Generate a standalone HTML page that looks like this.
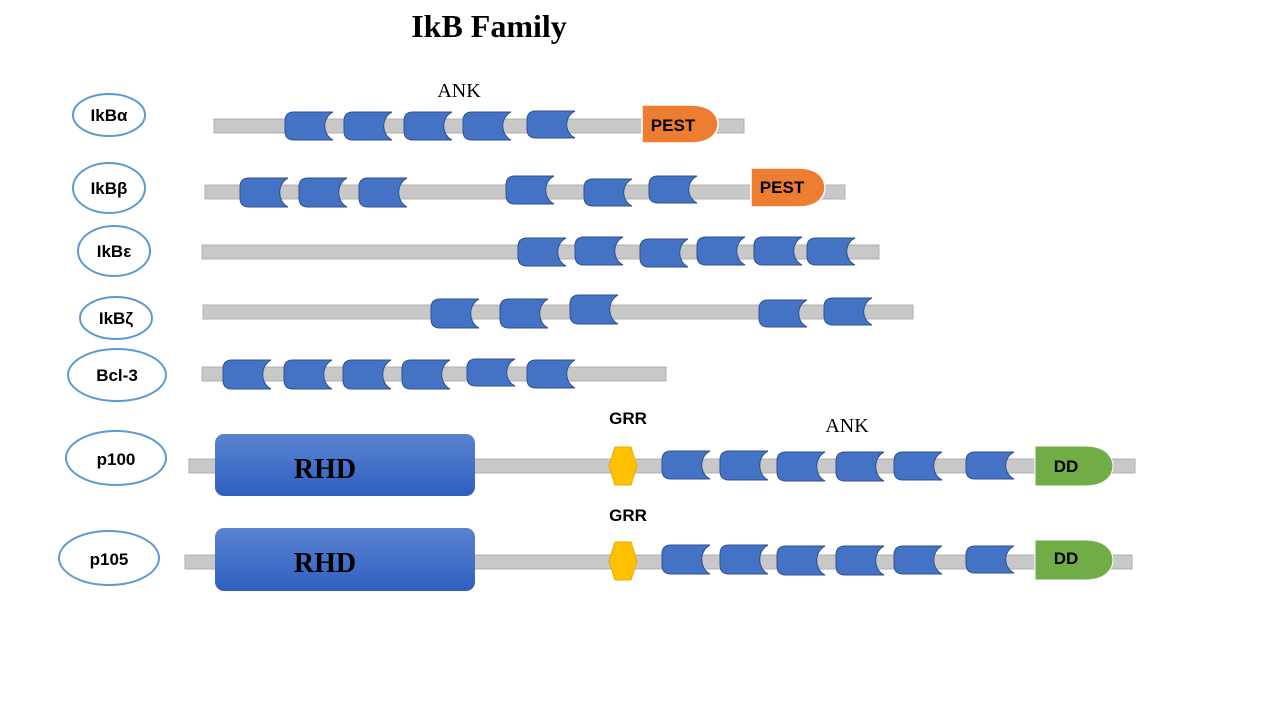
<!DOCTYPE html>
<html><head><meta charset="utf-8"><style>
body{margin:0;background:#fff;width:1280px;height:720px;overflow:hidden}
svg{display:block}
.lbl{font-family:"Liberation Sans",sans-serif;font-weight:bold;font-size:17px;fill:#000;text-anchor:middle}
</style></head><body>
<svg id="s" width="1280" height="720" xmlns="http://www.w3.org/2000/svg">
<defs>
<linearGradient id="rg" x1="0" y1="0" x2="0" y2="1"><stop offset="0" stop-color="#5a84d2"/><stop offset="1" stop-color="#2f5fbf"/></linearGradient>
</defs>
<text x="489" y="37" font-family="Liberation Serif,serif" font-weight="bold" font-size="32" text-anchor="middle">IkB Family</text>
<text x="459" y="97" font-family="Liberation Serif,serif" font-size="20" text-anchor="middle">ANK</text>
<text x="847" y="432" font-family="Liberation Serif,serif" font-size="20" text-anchor="middle">ANK</text>
<g fill="#c8c8c8" stroke="#b0b0b0" stroke-width="1">
<rect x="214" y="119" width="530" height="14"/>
<rect x="205" y="185" width="640" height="14"/>
<rect x="202" y="245" width="677" height="14"/>
<rect x="203" y="305" width="710" height="14"/>
<rect x="202" y="367" width="464" height="14"/>
<rect x="189" y="459" width="946" height="14"/>
<rect x="185" y="555" width="947" height="14"/>
</g>
<g fill="#fff" stroke="#5b9bd5" stroke-width="2">
<ellipse cx="109" cy="115" rx="36" ry="21"/>
<ellipse cx="109" cy="188" rx="36" ry="25"/>
<ellipse cx="114" cy="251" rx="36" ry="25"/>
<ellipse cx="116" cy="318" rx="36" ry="21"/>
<ellipse cx="117" cy="375" rx="49" ry="26"/>
<ellipse cx="116" cy="458" rx="50" ry="27"/>
<ellipse cx="109" cy="558" rx="50" ry="27"/>
</g>
<text class="lbl" x="109" y="121">IkBα</text>
<text class="lbl" x="109" y="194">IkBβ</text>
<text class="lbl" x="114" y="257">IkBε</text>
<text class="lbl" x="116" y="324">IkBζ</text>
<text class="lbl" x="117" y="381">Bcl-3</text>
<text class="lbl" x="116" y="465">p100</text>
<text class="lbl" x="109" y="565">p105</text>
<g id="ank"></g>
<path d="M642,105 H690 C712,105 718,116 718,124 C718,132 712,143 690,143 H642 Z" fill="#ed7d31" stroke="#fff" stroke-width="1.5"/>
<text class="lbl" x="673" y="131">PEST</text>
<path d="M751,168 H798 C819,168 825,179 825,187.5 C825,196 819,207 798,207 H751 Z" fill="#ed7d31" stroke="#fff" stroke-width="1.5"/>
<text class="lbl" x="782" y="193">PEST</text>
<rect x="215" y="434" width="260" height="62" rx="9" fill="url(#rg)"/>
<rect x="215" y="528" width="260" height="63" rx="9" fill="url(#rg)"/>
<text x="325" y="478" font-family="Liberation Serif,serif" font-weight="bold" font-size="28" text-anchor="middle">RHD</text>
<text x="325" y="572" font-family="Liberation Serif,serif" font-weight="bold" font-size="28" text-anchor="middle">RHD</text>
<polygon points="615,447 631,447 637,466 631,485 615,485 609,466" fill="#ffc000" stroke="#e6ac00"/>
<polygon points="615,542 631,542 637,561 631,580 615,580 609,561" fill="#ffc000" stroke="#e6ac00"/>
<text class="lbl" x="628" y="424">GRR</text>
<text class="lbl" x="628" y="521">GRR</text>
<path d="M1035,446 H1085 C1107,446 1113,458 1113,466 C1113,474 1107,486 1085,486 H1035 Z" fill="#70ad47" stroke="#fff"/>
<path d="M1035,540 H1085 C1107,540 1113,552 1113,560 C1113,568 1107,580 1085,580 H1035 Z" fill="#70ad47" stroke="#fff"/>
<text class="lbl" x="1066" y="472">DD</text>
<text class="lbl" x="1066" y="564">DD</text>
</svg>
<script>
var A=[
[285,112,28],[344,112,28],[404,112,28],[463,112,28],[527,111,27],
[240,178,29],[299,178,29],[359,178,29],[506,176,28],[584,179,27],[649,176,27],
[518,238,28],[575,237,28],[640,239,28],[697,237,28],[754,237,28],[807,238,27],
[431,299,29],[500,299,29],[570,295,29],[759,300,27],[824,298,27],
[223,360,29],[284,360,29],[343,360,29],[402,360,29],[467,359,27],[527,360,28],
[662,451,28],[720,451,29],[777,452,29],[836,452,29],[894,452,28],[966,452,27],
[662,545,29],[720,545,29],[777,546,29],[836,546,29],[894,546,28],[966,546,27]];
var g=document.getElementById('ank'),h='';
A.forEach(function(a){var x=a[0],y=a[1],H=a[2],w=48,r=9,c=11;
h+='<path d="M'+(x+r)+','+y+' H'+(x+w)+' C'+(x+w-c)+','+(y+H*0.2)+' '+(x+w-c)+','+(y+H*0.8)+' '+(x+w)+','+(y+H)+' H'+(x+r)+' Q'+x+','+(y+H)+' '+x+','+(y+H-r)+' V'+(y+r)+' Q'+x+','+y+' '+(x+r)+','+y+' Z" fill="#4472c4" stroke="#2f528f" stroke-width="1"/>';});
g.innerHTML=h;
</script>
</body></html>
